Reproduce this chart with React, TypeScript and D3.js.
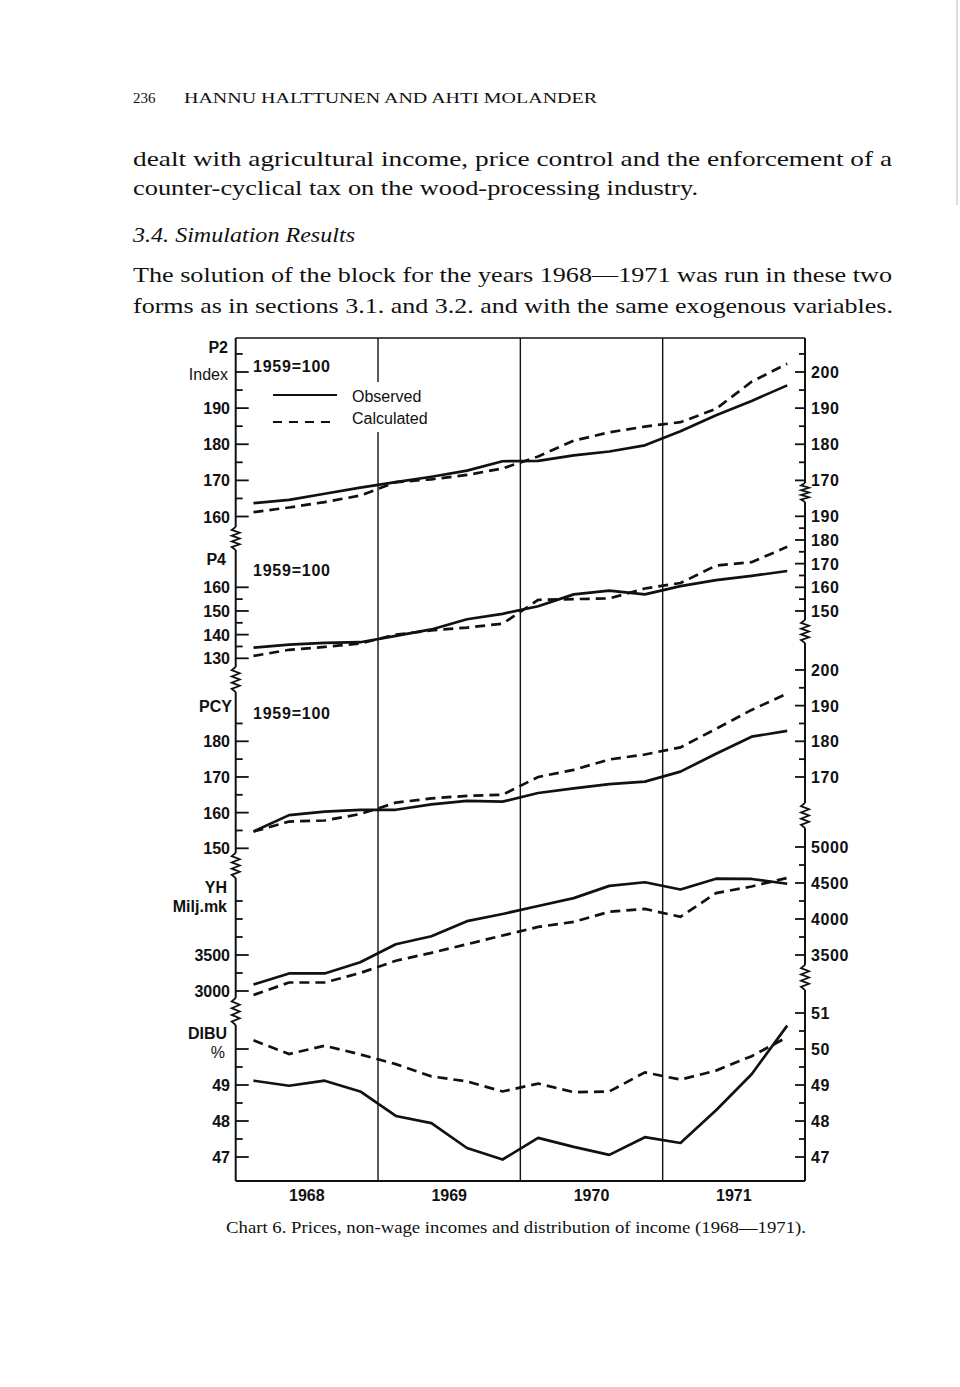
import React from "react";
import * as d3 from "d3";

// ---------- data (quarterly, 1968Q1 .. 1971Q4) ----------
const years = ["1968", "1969", "1970", "1971"];
const quarterCount = 16;

const p2Observed = [163.7, 164.6, 166.3, 168, 169.5, 171, 172.7, 175.3, 175.4, 176.9, 178, 179.7, 183.6, 188, 192, 196.3];
const p2Calculated = [161.2, 162.5, 164, 165.8, 169.5, 170.3, 171.5, 173.3, 176.6, 181, 183.3, 184.9, 186.1, 189.8, 197.3, 202.3];

const p4Observed = [134.5, 135.8, 136.5, 136.8, 139.5, 142.2, 146.5, 148.8, 152, 157, 158.6, 157, 160.5, 163, 164.8, 166.9];
const p4Calculated = [131, 133.6, 134.8, 136.3, 140, 141.8, 143, 144.6, 154.7, 155, 155.3, 159.5, 161.8, 169.2, 170.6, 177.1];

const pcyObserved = [154.7, 159.3, 160.3, 160.8, 160.8, 162.3, 163.3, 163.1, 165.5, 166.8, 168, 168.7, 171.5, 176.5, 181.3, 182.9];
const pcyCalculated = [154.7, 157.5, 157.8, 159.6, 162.8, 164, 164.7, 165, 170, 172, 174.9, 176.3, 178.3, 183.5, 188.8, 193.4];

const yhObserved = [3090, 3244, 3244, 3400, 3650, 3760, 3970, 4070, 4180, 4290, 4460, 4510, 4410, 4560, 4556, 4490];
const yhCalculated = [2945, 3118, 3118, 3250, 3420, 3530, 3650, 3770, 3890, 3960, 4100, 4140, 4030, 4360, 4452, 4570];

const dibuObserved = [49.12, 48.98, 49.12, 48.82, 48.14, 47.94, 47.25, 46.93, 47.53, 47.28, 47.06, 47.55, 47.39, 48.3, 49.3, 50.65];
const dibuCalculated = [50.24, 49.86, 50.09, 49.85, 49.58, 49.24, 49.1, 48.82, 49.04, 48.8, 48.82, 49.35, 49.15, 49.4, 49.8, 50.33];

const p2LeftLabels = [160, 170, 180, 190];
const p2RightLabels = [170, 180, 190, 200];
const p4LeftLabels = [130, 140, 150, 160];
const p4RightLabels = [150, 160, 170, 180, 190];
const pcyLeftLabels = [150, 160, 170, 180];
const pcyRightLabels = [170, 180, 190, 200];
const yhLeftLabels = [3000, 3500];
const yhRightLabels = [3500, 4000, 4500, 5000];
const dibuLeftLabels = [47, 48, 49];
const dibuRightLabels = [47, 48, 49, 50, 51];

const legendObserved = "Observed";
const legendCalculated = "Calculated";
const baseLabel = "1959=100";

// ---------- layout ----------
const X0 = 235.7;
const X1 = 805;
const TOP = 338;
const BOTTOM = 1181;
const SANS = "'Liberation Sans', Arial, Helvetica, sans-serif";
const SERIF = "'Liberation Serif', 'Times New Roman', serif";

const leftBreaks: [number, number][] = [[527, 550], [667, 692], [853, 878], [998, 1025]];
const rightBreaks: [number, number][] = [[483, 502], [620, 643], [803, 828], [965, 990]];

function zigzag(xc: number, y0: number, y1: number) {
  const n = 8;
  const pts: [number, number][] = [];
  for (let k = 0; k <= n; k++) {
    const y = y0 + ((y1 - y0) * k) / n;
    const xx = k === 0 || k === n ? xc : xc + (k % 2 ? -4 : 4);
    pts.push([xx, y]);
  }
  return d3.line()(pts) as string;
}

function segments(breaks: [number, number][]) {
  const segs: [number, number][] = [];
  let start = TOP;
  for (const [a, b] of breaks) {
    segs.push([start, a]);
    start = b;
  }
  segs.push([start, BOTTOM]);
  return segs;
}

export default function App() {
  const x = d3.scaleLinear().domain([0, quarterCount]).range([X0, X1]);
  const qx = (i: number) => x(i + 0.5);

  const panels = [
    {
      obs: p2Observed, calc: p2Calculated,
      y: d3.scaleLinear().domain([160, 200]).range([516.5, 372]),
      leftTicks: d3.range(160, 206, 5), leftLabels: p2LeftLabels, leftMajor: [160, 170, 180, 190, 200],
      rightTicks: d3.range(170, 206, 5), rightLabels: p2RightLabels, fmt: (v: number) => String(v),
    },
    {
      obs: p4Observed, calc: p4Calculated,
      y: d3.scaleLinear().domain([130, 160]).range([658.3, 587.3]),
      leftTicks: d3.range(130, 161, 5), leftLabels: p4LeftLabels, leftMajor: p4LeftLabels,
      rightTicks: d3.range(150, 191, 5), rightLabels: p4RightLabels, fmt: (v: number) => String(v),
    },
    {
      obs: pcyObserved, calc: pcyCalculated,
      y: d3.scaleLinear().domain([150, 180]).range([848.3, 741.3]),
      leftTicks: d3.range(150, 186, 5), leftLabels: pcyLeftLabels, leftMajor: pcyLeftLabels,
      rightTicks: d3.range(170, 201, 5), rightLabels: pcyRightLabels, fmt: (v: number) => String(v),
    },
    {
      obs: yhObserved, calc: yhCalculated,
      y: d3.scaleLinear().domain([3000, 5000]).range([991, 847]),
      leftTicks: d3.range(3000, 4251, 250), leftLabels: yhLeftLabels, leftMajor: yhLeftLabels,
      rightTicks: d3.range(3500, 5001, 250), rightLabels: yhRightLabels, fmt: (v: number) => String(v),
    },
    {
      obs: dibuObserved, calc: dibuCalculated,
      y: d3.scaleLinear().domain([47, 49]).range([1157, 1085]),
      leftTicks: d3.range(47, 50.01, 0.5), leftLabels: dibuLeftLabels, leftMajor: [47, 48, 49, 50],
      rightTicks: d3.range(47, 51.01, 0.5), rightLabels: dibuRightLabels, fmt: (v: number) => String(v),
    },
  ];

  const isIn = (arr: number[], v: number) => arr.some((a) => Math.abs(a - v) < 1e-6);

  return (
    <svg
      width={960}
      height={1387}
      style={{ position: "absolute", left: 0, top: 0, background: "#fff" }}
    >
      <rect x={0} y={0} width={960} height={1387} fill="#fff" />
      <line x1={957} y1={0} x2={957} y2={205} stroke="#bbb" strokeWidth={1} />

      {/* page text */}
      <g fontFamily={SERIF} fill="#111">
        <text x={133} y={103} fontSize={15}>236</text>
        <text x={184} y={103} fontSize={15} textLength={413} lengthAdjust="spacingAndGlyphs">HANNU HALTTUNEN AND AHTI MOLANDER</text>
        <text x={133} y={166} fontSize={22} textLength={759} lengthAdjust="spacingAndGlyphs">dealt with agricultural income, price control and the enforcement of a</text>
        <text x={133} y={195} fontSize={22} textLength={565} lengthAdjust="spacingAndGlyphs">counter-cyclical tax on the wood-processing industry.</text>
        <text x={133} y={242} fontSize={22} fontStyle="italic" textLength={222} lengthAdjust="spacingAndGlyphs">3.4. Simulation Results</text>
        <text x={133} y={282} fontSize={22} textLength={759} lengthAdjust="spacingAndGlyphs">The solution of the block for the years 1968—1971 was run in these two</text>
        <text x={133} y={313} fontSize={22} textLength={760} lengthAdjust="spacingAndGlyphs">forms as in sections 3.1. and 3.2. and with the same exogenous variables.</text>
        <text x={226} y={1233} fontSize={17} textLength={580} lengthAdjust="spacingAndGlyphs">Chart 6. Prices, non-wage incomes and distribution of income (1968—1971).</text>
      </g>

      {/* frame */}
      <line x1={X0} y1={TOP} x2={X1} y2={TOP} stroke="#111" strokeWidth={1.5} />
      <line x1={X0} y1={BOTTOM} x2={X1} y2={BOTTOM} stroke="#111" strokeWidth={2} />
      {segments(leftBreaks).map(([a, b], i) => (
        <line key={"ls" + i} x1={X0} y1={a} x2={X0} y2={b} stroke="#111" strokeWidth={2} />
      ))}
      {segments(rightBreaks).map(([a, b], i) => (
        <line key={"rs" + i} x1={X1} y1={a} x2={X1} y2={b} stroke="#111" strokeWidth={2} />
      ))}
      {leftBreaks.map(([a, b], i) => (
        <path key={"lz" + i} d={zigzag(X0, a, b)} fill="none" stroke="#111" strokeWidth={1.8} />
      ))}
      {rightBreaks.map(([a, b], i) => (
        <path key={"rz" + i} d={zigzag(X1, a, b)} fill="none" stroke="#111" strokeWidth={1.8} />
      ))}

      {/* year dividers */}
      <line x1={x(4)} y1={TOP} x2={x(4)} y2={382} stroke="#111" strokeWidth={1.4} />
      <line x1={x(4)} y1={432} x2={x(4)} y2={BOTTOM} stroke="#111" strokeWidth={1.4} />
      <line x1={x(8)} y1={TOP} x2={x(8)} y2={BOTTOM} stroke="#111" strokeWidth={1.4} />
      <line x1={x(12)} y1={TOP} x2={x(12)} y2={BOTTOM} stroke="#111" strokeWidth={1.4} />

      {/* year labels */}
      {years.map((yr, i) => (
        <text key={yr} x={x(i * 4 + 2)} y={1201} textAnchor="middle" fontFamily={SANS} fontWeight="bold" fontSize={16} fill="#111">
          {yr}
        </text>
      ))}

      {/* panels */}
      {panels.map((p, pi) => {
        const line = d3.line<number>().x((_, i) => qx(i)).y((v) => p.y(v));
        return (
          <g key={"p" + pi}>
            {p.leftTicks.map((v) => {
              const major = isIn(p.leftMajor, v);
              return (
                <line key={"lt" + v} x1={X0} x2={X0 + (major ? 13 : 7)} y1={p.y(v)} y2={p.y(v)} stroke="#111" strokeWidth={1.8} />
              );
            })}
            {p.leftLabels.map((v) => (
              <text key={"ll" + v} x={230} y={p.y(v) + 6} textAnchor="end" fontFamily={SANS} fontWeight="bold" fontSize={16} fill="#111">
                {p.fmt(v)}
              </text>
            ))}
            {p.rightTicks.map((v) => {
              const major = isIn(p.rightLabels, v);
              return (
                <line key={"rt" + v} x1={X1} x2={X1 - (major ? 10 : 6)} y1={p.y(v)} y2={p.y(v)} stroke="#111" strokeWidth={1.8} />
              );
            })}
            {p.rightLabels.map((v) => (
              <text key={"rl" + v} x={811} y={p.y(v) + 6} textAnchor="start" fontFamily={SANS} fontWeight="bold" fontSize={16} fill="#111" letterSpacing={0.6}>
                {p.fmt(v)}
              </text>
            ))}
            <path d={line(p.obs) as string} fill="none" stroke="#111" strokeWidth={2.7} strokeLinejoin="round" />
            <path d={line(p.calc) as string} fill="none" stroke="#111" strokeWidth={2.7} strokeDasharray="10,6" />
          </g>
        );
      })}

      {/* left axis titles */}
      <g fontFamily={SANS} fill="#111" fontSize={16} textAnchor="end">
        <text x={228} y={353} fontWeight="bold">P2</text>
        <text x={228} y={380}>Index</text>
        <text x={226} y={565} fontWeight="bold">P4</text>
        <text x={232} y={712} fontWeight="bold">PCY</text>
        <text x={227} y={893} fontWeight="bold">YH</text>
        <text x={227} y={912} fontWeight="bold">Milj.mk</text>
        <text x={227} y={1039} fontWeight="bold">DIBU</text>
        <text x={225} y={1058}>%</text>
      </g>

      {/* base-year notes */}
      <g fontFamily={SANS} fill="#111" fontSize={16} fontWeight="bold">
        <text x={253} y={372} textLength={77}>{baseLabel}</text>
        <text x={253} y={576} textLength={77}>{baseLabel}</text>
        <text x={253} y={719} textLength={77}>{baseLabel}</text>
      </g>

      {/* legend */}
      <line x1={273} x2={337} y1={395} y2={395} stroke="#111" strokeWidth={1.8} />
      <line x1={273} x2={337} y1={422} y2={422} stroke="#111" strokeWidth={1.8} strokeDasharray="9,7" />
      <text x={352} y={401.5} fontFamily={SANS} fontSize={16} fill="#111">{legendObserved}</text>
      <text x={352} y={424} fontFamily={SANS} fontSize={16} fill="#111">{legendCalculated}</text>
    </svg>
  );
}
